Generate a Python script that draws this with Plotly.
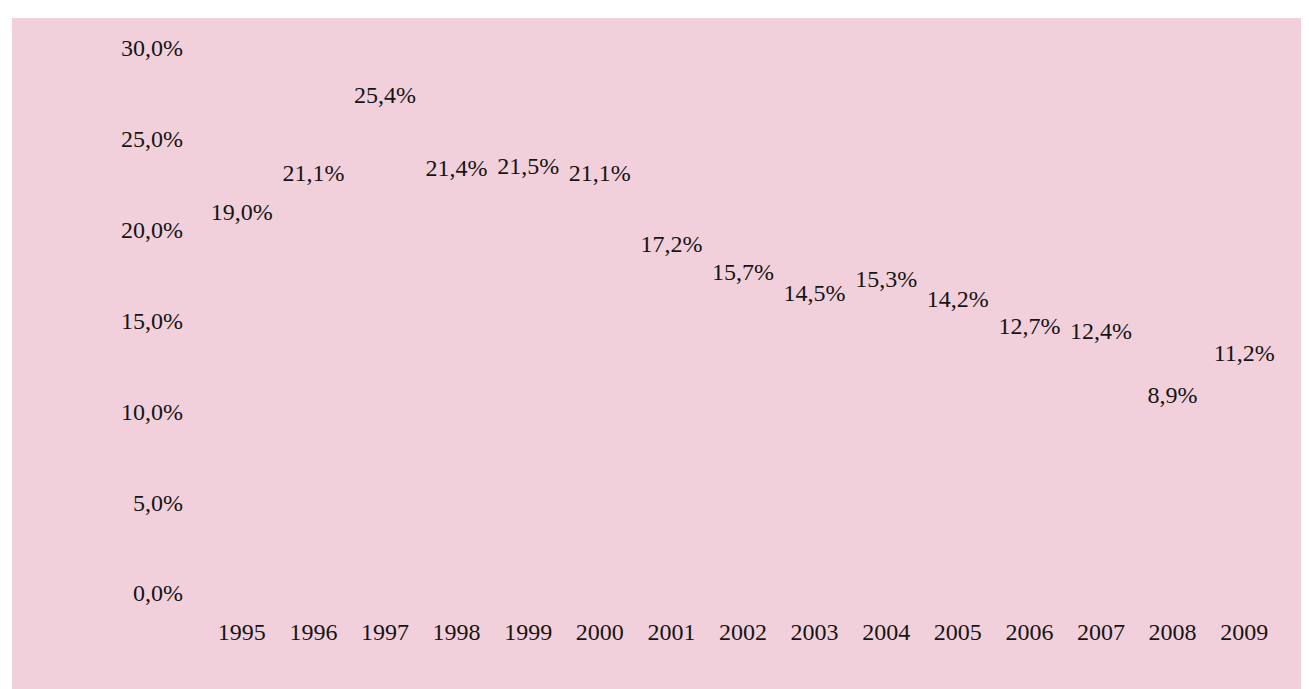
import plotly.graph_objects as go

# Data
years = ["1995", "1996", "1997", "1998", "1999", "2000", "2001", "2002",
         "2003", "2004", "2005", "2006", "2007", "2008", "2009"]
values = [19.0, 21.1, 25.4, 21.4, 21.5, 21.1, 17.2, 15.7,
          14.5, 15.3, 14.2, 12.7, 12.4, 8.9, 11.2]
y_ticks = [0, 5, 10, 15, 20, 25, 30]
y_labels = [f"{v:.1f}%".replace(".", ",") for v in y_ticks]

pink = "#F2D0DB"
font = dict(family="Liberation Serif", size=24, color="#151515")

fig = go.Figure()

# Only the value labels are visible; the markers are transparent
fig.add_trace(go.Scatter(
    x=years, y=values,
    mode="markers+text",
    marker=dict(size=34, color="rgba(0,0,0,0)"),
    text=values,
    texttemplate="%{y:.1f}%",
    textposition="top center",
    textfont=font,
    hoverinfo="skip",
    showlegend=False,
))

fig.update_layout(
    width=1309, height=689,
    separators=", ",
    paper_bgcolor=pink,
    plot_bgcolor=pink,
    font=font,
    margin=dict(l=198, r=37, t=40, b=104, autoexpand=False),
    xaxis=dict(
        type="category",
        range=[-0.5, 14.5],
        showgrid=False, zeroline=False, showline=False,
        ticks="", ticklabelstandoff=22,
        tickfont=font,
    ),
    yaxis=dict(
        range=[0, 30],
        tickvals=y_ticks,
        ticktext=y_labels,
        showgrid=False, zeroline=False, showline=False,
        ticks="", ticklabelstandoff=22,
        tickfont=font,
    ),
    shapes=[
        # white scan border along the top and left edge
        dict(type="rect", xref="paper", yref="paper",
             x0=-0.25, x1=1.1, y0=1.055, y1=1.2,
             fillcolor="white", line=dict(width=0), layer="below"),
        dict(type="rect", xref="paper", yref="paper",
             x0=-0.25, x1=-0.1806, y0=-0.3, y1=1.2,
             fillcolor="white", line=dict(width=0), layer="below"),
    ],
)

fig.write_html("out.html")
